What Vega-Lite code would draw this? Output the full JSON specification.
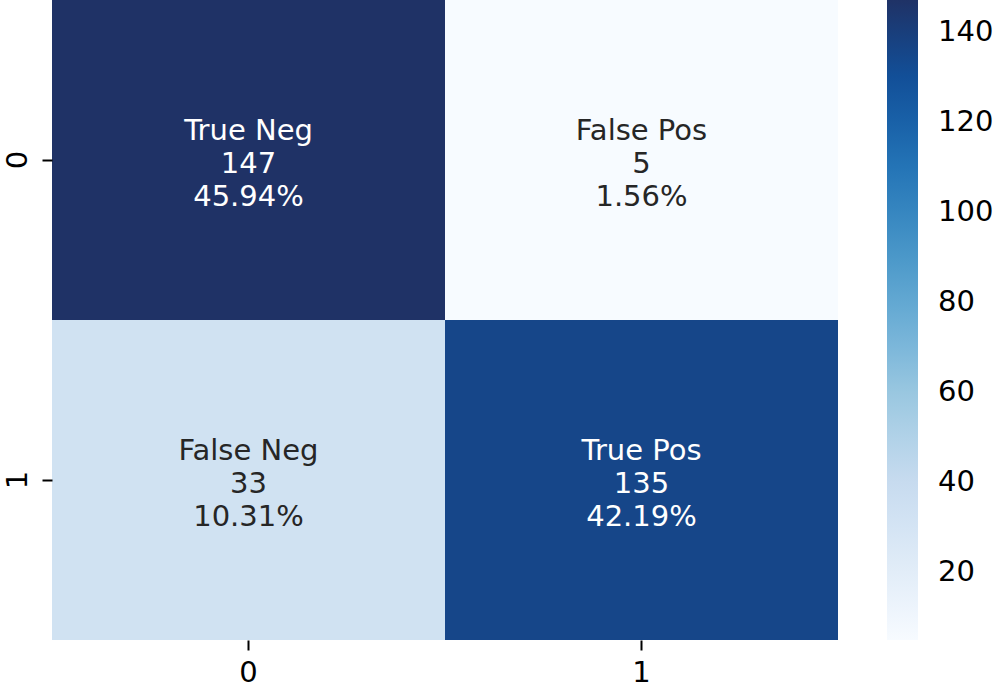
{
  "$schema": "https://vega.github.io/schema/vega-lite/v6.json",
  "autosize": {"type": "none"},
  "padding": {"left": 52, "top": 0, "right": 157, "bottom": 51},
  "width": 786,
  "height": 640,
  "background": "white",
  "config": {
    "view": {"stroke": null},
    "font": "DejaVu Sans"
  },
  "data": {
    "values": [
      {"actual": "0", "predicted": "0", "count": 147, "name": "True Neg", "pct": "45.94%"},
      {"actual": "0", "predicted": "1", "count": 5, "name": "False Pos", "pct": "1.56%"},
      {"actual": "1", "predicted": "0", "count": 33, "name": "False Neg", "pct": "10.31%"},
      {"actual": "1", "predicted": "1", "count": 135, "name": "True Pos", "pct": "42.19%"}
    ]
  },
  "encoding": {
    "x": {
      "field": "predicted", "type": "nominal", "title": null,
      "scale": {"paddingInner": 0, "paddingOuter": 0},
      "axis": {"labelAngle": 0, "labelFontSize": 29, "labelColor": "black", "tickSize": 10, "tickWidth": 2, "tickColor": "black", "domain": false, "labelPadding": 8, "grid": false}
    },
    "y": {
      "field": "actual", "type": "nominal", "title": null,
      "scale": {"paddingInner": 0, "paddingOuter": 0},
      "axis": {"labelAngle": 270, "labelAlign": "center", "labelBaseline": "alphabetic", "labelFontSize": 29, "labelColor": "black", "tickSize": 10, "tickWidth": 2, "tickColor": "black", "domain": false, "labelPadding": 16, "grid": false}
    }
  },
  "layer": [
    {
      "mark": {"type": "rect"},
      "encoding": {
        "color": {
          "field": "count", "type": "quantitative",
          "scale": {
            "domain": [5, 147],
            "range": ["#f7fbff", "#deebf7", "#c6dbef", "#9ecae1", "#6baed6", "#4292c6", "#2171b5", "#11509a", "#1f3266"],
            "interpolate": "rgb"
          },
          "legend": {
            "title": null,
            "orient": "none",
            "legendX": 835,
            "legendY": 0,
            "direction": "vertical",
            "gradientLength": 640,
            "gradientThickness": 31,
            "gradientStrokeWidth": 0,
            "values": [20, 40, 60, 80, 100, 120, 140],
            "labelFontSize": 29,
            "labelColor": "black",
            "labelOffset": 20,
            "labelOverlap": false
          }
        }
      }
    },
    {
      "mark": {"type": "text", "fontSize": 29, "dy": -29},
      "encoding": {
        "text": {"field": "name"},
        "color": {"condition": {"test": "datum.count > 80", "value": "white"}, "value": "#262626"}
      }
    },
    {
      "mark": {"type": "text", "fontSize": 29, "dy": 4},
      "encoding": {
        "text": {"field": "count"},
        "color": {"condition": {"test": "datum.count > 80", "value": "white"}, "value": "#262626"}
      }
    },
    {
      "mark": {"type": "text", "fontSize": 29, "dy": 37},
      "encoding": {
        "text": {"field": "pct"},
        "color": {"condition": {"test": "datum.count > 80", "value": "white"}, "value": "#262626"}
      }
    }
  ]
}
